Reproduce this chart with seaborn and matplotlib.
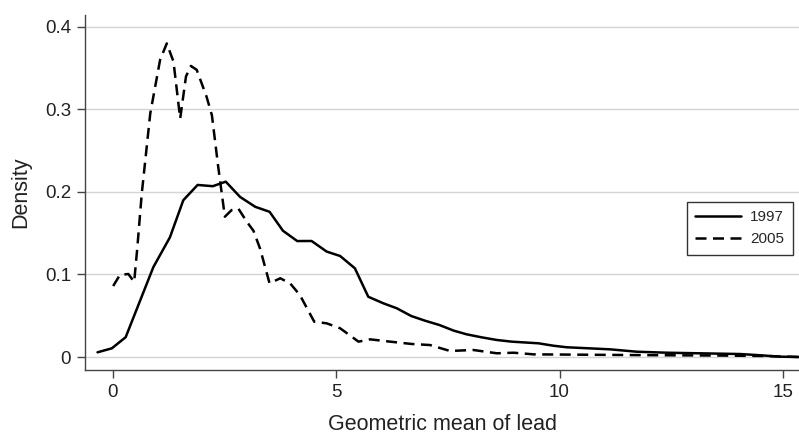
import pandas as pd
import matplotlib
matplotlib.use("Agg")
import matplotlib.pyplot as plt
import seaborn as sns

# density curves
x_1997 = [-0.34, -0.02, 0.29, 0.91, 1.28, 1.58, 1.90, 2.24, 2.53, 2.85, 3.19, 3.51,
          3.81, 4.13, 4.45, 4.79, 5.09, 5.42, 5.72, 6.06, 6.36, 6.68, 6.99, 7.31,
          7.63, 7.92, 8.26, 8.60, 8.93, 9.53, 9.86, 10.16, 11.13, 11.73, 12.4,
          14.04, 14.41, 14.94, 15.36]
y_1997 = [0.0057, 0.0105, 0.024, 0.109, 0.145, 0.190, 0.2085, 0.207, 0.2125, 0.194,
          0.182, 0.176, 0.153, 0.1405, 0.1406, 0.1277, 0.1224, 0.1075, 0.073, 0.065,
          0.059, 0.0497, 0.044, 0.0388, 0.032, 0.0275, 0.0238, 0.0206, 0.0186,
          0.0166, 0.0137, 0.0118, 0.0093, 0.0064, 0.0052, 0.0036, 0.0024, 0.0004, 0.0]

x_2005 = [0.01, 0.16, 0.35, 0.48, 0.55, 0.65, 0.84, 1.06, 1.21, 1.36, 1.51, 1.64,
          1.75, 1.88, 2.10, 2.22, 2.36, 2.51, 2.66, 2.81, 3.00, 3.15, 3.30, 3.51,
          3.75, 3.97, 4.19, 4.51, 4.79, 5.09, 5.35, 5.50, 5.76, 6.21, 6.69, 7.10,
          7.55, 8.07, 8.60, 8.97, 9.42, 10.5, 12.0, 13.5, 14.6, 15.36]
y_2005 = [0.086, 0.0994, 0.1006, 0.091, 0.132, 0.198, 0.295, 0.360, 0.380, 0.358,
          0.289, 0.340, 0.3527, 0.348, 0.3155, 0.293, 0.231, 0.170, 0.178, 0.180,
          0.164, 0.153, 0.131, 0.0893, 0.0954, 0.0893, 0.075, 0.0428, 0.0408,
          0.0348, 0.0246, 0.0186, 0.0214, 0.0186, 0.0158, 0.0145, 0.0073, 0.0085,
          0.0045, 0.0052, 0.0032, 0.0028, 0.0022, 0.0018, 0.0012, 0.0]

y_ticks = [0, 0.1, 0.2, 0.3, 0.4]
y_tick_labels = ["0", "0.1", "0.2", "0.3", "0.4"]
x_ticks = [0, 5, 10, 15]

df = pd.concat([
    pd.DataFrame({"x": x_1997, "density": y_1997, "year": "1997"}),
    pd.DataFrame({"x": x_2005, "density": y_2005, "year": "2005"}),
])

sns.set_style("ticks")
plt.rcParams["font.family"] = ["Liberation Sans", "DejaVu Sans"]

fig = plt.figure(figsize=(7.99, 4.40), dpi=100)
ax = fig.add_axes([0.1064, 0.159, 0.8936, 0.807])

sns.lineplot(data=df, x="x", y="density", hue="year", style="year",
             palette={"1997": "black", "2005": "black"},
             dashes={"1997": "", "2005": (4.4, 2.6)},
             linewidth=1.8, ax=ax, sort=False)

ax.set_xlim(-0.62, 15.36)
ax.set_ylim(-0.0158, 0.4145)
ax.set_yticks(y_ticks)
ax.set_yticklabels(y_tick_labels)
ax.set_xticks(x_ticks)
ax.yaxis.grid(True, color="#d4d4d4", linewidth=1.0)
ax.set_axisbelow(True)

for side in ["top", "right"]:
    ax.spines[side].set_visible(False)
for side in ["left", "bottom"]:
    ax.spines[side].set_color("#444444")
    ax.spines[side].set_linewidth(1.0)

ax.tick_params(axis="both", direction="out", length=6, width=1.0,
               color="#444444", labelsize=13.5, labelcolor="#222222", pad=4)

ax.set_xlabel("Geometric mean of lead", fontsize=15.5, color="#222222", labelpad=9.5)
ax.set_ylabel("Density", fontsize=15.5, color="#222222", labelpad=10)

leg = ax.legend(loc="upper left", bbox_to_anchor=(0.843, 0.473),
                frameon=True, fancybox=False, fontsize=11,
                handlelength=3.0, handletextpad=0.6, borderpad=0.55,
                labelspacing=0.5, borderaxespad=0)
leg.get_frame().set_edgecolor("black")
leg.get_frame().set_linewidth(1.0)

fig.savefig("out.png", dpi=100)
